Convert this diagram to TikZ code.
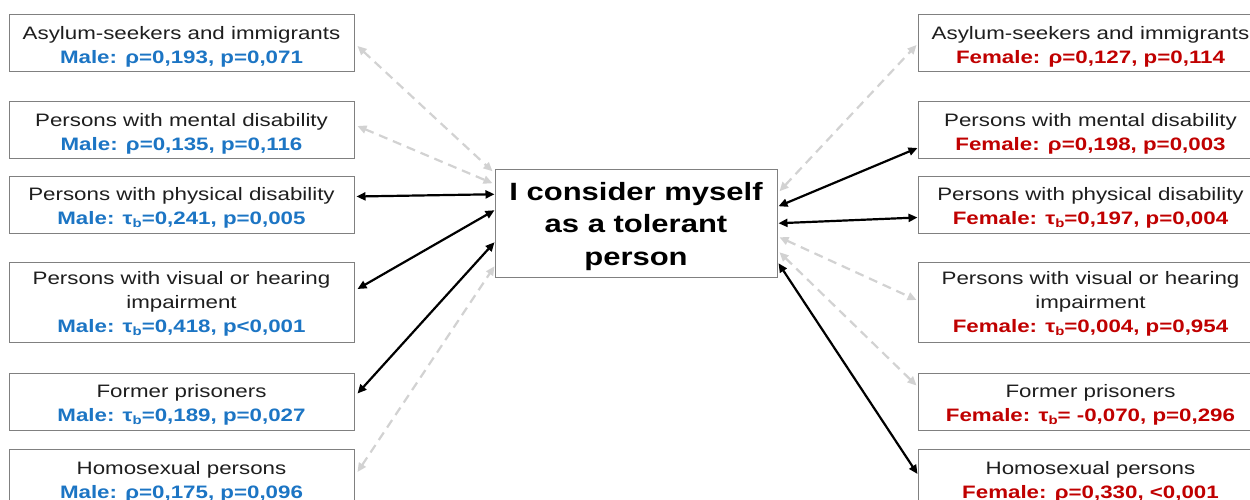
\documentclass[tikz,border=0pt]{standalone}
\usepackage{fontspec}
\setmainfont{Liberation Sans}[FakeStretch=1.24]
\usetikzlibrary{arrows.meta}
\definecolor{boxgray}{RGB}{128,128,128}
\definecolor{txt}{RGB}{30,30,30}
\definecolor{mblue}{RGB}{28,117,196}
\definecolor{fred}{RGB}{192,0,0}
\definecolor{dashgray}{RGB}{210,210,210}
\newcommand{\subb}{\raisebox{-3pt}{\fontsize{12}{12}\selectfont b}}
\newcommand{\male}[1]{\textcolor{mblue}{\bfseries Male: #1}}
\newcommand{\fem}[1]{\textcolor{fred}{\bfseries Female: #1}}
\begin{document}
\begin{tikzpicture}[x=1pt,y=-1pt,
  box/.style={draw=boxgray, line width=1pt, minimum width=345pt, text height=48.5pt, text depth=8.5pt,
    inner sep=0pt, align=center, font=\fontsize{18}{24}\selectfont, text=txt},
  tallbox/.style={box, text height=70pt, text depth=10pt},
  centerbox/.style={draw=boxgray, line width=1pt, minimum width=282pt, text height=95.5pt, text depth=12pt,
    inner sep=0pt, align=center, font=\bfseries\fontsize{25}{32.5}\selectfont, text=black},
  link/.style={{Triangle[length=9pt,width=8pt]}-{Triangle[length=9pt,width=8pt]}, line width=2.2pt},
  sig/.style={link, draw=black},
  nsig/.style={link, draw=dashgray, dash pattern=on 9pt off 6pt}]
\useasboundingbox (0,0) rectangle (1250,499);
\fill[white] (0,0) rectangle (1250,499);

\node[centerbox] (C) at (636,223.5) {I consider myself\\as a tolerant\\person};

\node[box] (L1) at (181.5,43) {Asylum-seekers and immigrants\\\male{ρ=0,193, p=0,071}};
\node[box] (L2) at (181.5,130) {Persons with mental disability\\\male{ρ=0,135, p=0,116}};
\node[box] (L3) at (181.5,204.5) {Persons with physical disability\\\male{τ\subb=0,241, p=0,005}};
\node[tallbox] (L4) at (181.5,302) {Persons with visual or hearing\\impairment\\\male{τ\subb=0,418, p<0,001}};
\node[box] (L5) at (181.5,401.5) {Former prisoners\\\male{τ\subb=0,189, p=0,027}};
\node[box] (L6) at (181.5,478) {Homosexual persons\\\male{ρ=0,175, p=0,096}};

\node[box] (R1) at (1090.5,43) {Asylum-seekers and immigrants\\\fem{ρ=0,127, p=0,114}};
\node[box] (R2) at (1090.5,130) {Persons with mental disability\\\fem{ρ=0,198, p=0,003}};
\node[box] (R3) at (1090.5,204.5) {Persons with physical disability\\\fem{τ\subb=0,197, p=0,004}};
\node[tallbox] (R4) at (1090.5,302) {Persons with visual or hearing\\impairment\\\fem{τ\subb=0,004, p=0,954}};
\node[box] (R5) at (1090.5,401.5) {Former prisoners\\\fem{τ\subb= -0,070, p=0,296}};
\node[box] (R6) at (1090.5,478) {Homosexual persons\\\fem{ρ=0,330, <0,001}};

\draw[nsig] ([shift={(3,3)}]L1.east) -- ([shift={(-2,2)}]C.north west);
\draw[nsig] ([shift={(3,-4)}]L2.east) -- ([shift={(-2,14)}]C.north west);
\draw[sig] ([shift={(2,-8)}]L3.east) -- ([shift={(0,25)}]C.north west);
\draw[sig] ([shift={(3,-13)}]L4.east) -- ([shift={(0,41)}]C.north west);
\draw[sig] ([shift={(3,-8)}]L5.east) -- ([shift={(0,73)}]C.north west);
\draw[nsig] ([shift={(3,-6)}]L6.east) -- ([shift={(0,97)}]C.north west);

\draw[nsig] ([shift={(2,22)}]C.north east) -- ([shift={(-1,2)}]R1.west);
\draw[sig] ([shift={(1,37)}]C.north east) -- ([shift={(0,18)}]R2.west);
\draw[sig] ([shift={(1,54)}]C.north east) -- ([shift={(0,13)}]R3.west);
\draw[nsig] ([shift={(2,68)}]C.north east) -- ([shift={(-1,-2)}]R4.west);
\draw[nsig] ([shift={(2,83)}]C.north east) -- ([shift={(-1,-16)}]R5.west);
\draw[sig] ([shift={(1,94)}]C.north east) -- ([shift={(0,-4)}]R6.west);
\end{tikzpicture}
\end{document}
